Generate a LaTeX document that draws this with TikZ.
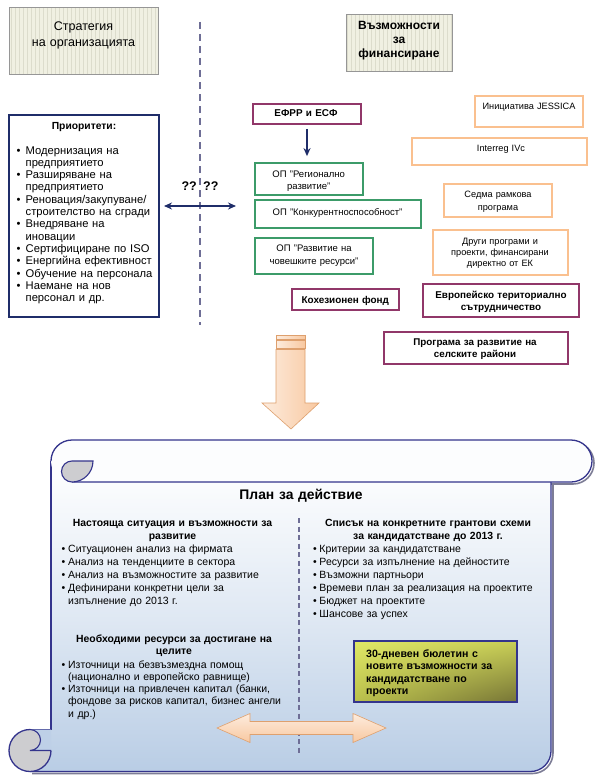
\documentclass[tikz,border=0pt]{standalone}
\usepackage{fontspec}
\setmainfont{Liberation Sans}
\usetikzlibrary{arrows.meta,shadings}
\definecolor{navy}{RGB}{31,45,105}
\definecolor{scrollc}{RGB}{52,52,140}
\definecolor{purp}{RGB}{145,55,105}
\definecolor{grn}{RGB}{60,155,105}
\definecolor{orng}{RGB}{250,192,143}
\definecolor{hdrfill}{RGB}{240,240,226}
\definecolor{hdrgrid}{RGB}{220,220,204}
\definecolor{hdrdraw}{RGB}{150,150,150}
\definecolor{dashc}{RGB}{110,110,150}
\definecolor{bodyblue}{RGB}{185,205,229}
\definecolor{bodymid}{RGB}{190,208,231}
\definecolor{peach}{RGB}{248,200,160}
\definecolor{peachL}{RGB}{253,236,222}
\definecolor{peachD}{RGB}{222,160,110}
\definecolor{curlgray}{RGB}{205,205,208}
\definecolor{shadowc}{RGB}{125,125,150}
\definecolor{bUL}{RGB}{224,232,102}
\definecolor{bUR}{RGB}{200,206,86}
\definecolor{bLL}{RGB}{186,192,76}
\definecolor{bLR}{RGB}{118,116,54}
\newcommand\blt{\makebox[9pt][l]{\textbullet}}
\newcommand\bls{\makebox[6.5pt][l]{\textbullet}}
\tikzset{
  hdrbox/.style={draw=hdrdraw, line width=0.9, fill=hdrfill, inner sep=0,
    path picture={\draw[hdrgrid, line width=0.3, step=4] (path picture bounding box.south west) grid (path picture bounding box.north east);}},
  pbox/.style={draw=purp, line width=1.8, fill=white, inner sep=0},
  gbox/.style={draw=grn, line width=1.8, fill=white, inner sep=0},
  obox/.style={draw=orng, line width=1.8, fill=white, inner sep=0},
  ctxt/.style={inner sep=0, anchor=base, align=center},
  ltxt/.style={inner sep=0, anchor=base west, align=left},
  sm/.style={font=\fontsize{9.5}{12}\selectfont},
  so/.style={font=\fontsize{9.2}{12}\selectfont},
  smb/.style={font=\bfseries\fontsize{9.9}{12}\selectfont},
  vdash/.style={draw=dashc, line width=1.8, dash pattern=on 7pt off 5pt},
  navyarrow/.style={draw=navy, line width=1.8, -{Stealth[length=8pt,width=7pt]}},
}
\begin{document}
\begin{tikzpicture}[x=1pt,y=-1pt]
\useasboundingbox (0,0) rectangle (595,784);
\fill[white] (0,0) rectangle (595,784);

% ---------- headers ----------
\node[hdrbox, minimum width=149, minimum height=67] (strat) at (83.5,40.5) {};
\node[ctxt, text width=140, font=\fontsize{12.5}{16}\selectfont] (strattxt) at (83.5,30.5) {Стратегия\\на организацията};
\node[hdrbox, minimum width=106, minimum height=57] (vuzm) at (399,42.5) {};
\node[ctxt, text width=100, font=\bfseries\fontsize{12}{14}\selectfont] (vuzmtxt) at (399,29.5) {Възможности\\за\\финансиране};

% ---------- vertical dashed divider ----------
\coordinate (vtop) at (200,22);
\coordinate (vbot) at (200,325);
\draw[vdash] (vtop) -- (vbot);

% ---------- priorities ----------
\node[draw=navy, line width=2, fill=white, minimum width=150, minimum height=202, inner sep=0] (prio) at (84,216) {};
\node[ctxt, text width=140, font=\bfseries\fontsize{10.3}{12}\selectfont] (priot) at (84,129) {Приоритети:};
\node[ltxt, text width=145, font=\fontsize{11.2}{12.33}\selectfont] (priol) at (16.5,154)
 {\blt Модернизация на\\\hspace*{9pt}предприятието\\
  \blt Разширяване на\\\hspace*{9pt}предприятието\\
  \blt Реновация/закупуване/\\\hspace*{9pt}строителство на сгради\\
  \blt Внедряване на\\\hspace*{9pt}иновации\\
  \blt Сертифициране по ISO\\
  \blt Енергийна ефективност\\
  \blt Обучение на персонала\\
  \blt Наемане на нов\\\hspace*{9pt}персонал и др.};

\node[ctxt, text width=50, font=\bfseries\fontsize{12.5}{14}\selectfont] (qq) at (200,190) {?? ??};
\coordinate (dl) at (164,206);
\coordinate (dr) at (236,206);
\draw[draw=navy, line width=1.8, {Stealth[length=8pt,width=7pt]}-{Stealth[length=8pt,width=7pt]}] (dl) -- (dr);

% ---------- funding boxes ----------
\node[pbox, minimum width=108, minimum height=20] (efrr) at (307,114) {};
\node[ctxt, smb, text width=100] (efrrt) at (306,116) {ЕФРР и ЕСФ};

\node[gbox, minimum width=108, minimum height=32] (opreg) at (309,179) {};
\node[ctxt, sm, text width=104] (opregt) at (308.7,177) {ОП "Регионално\\развитие"};

\node[gbox, minimum width=166, minimum height=28] (opkon) at (338,214) {};
\node[ctxt, sm, text width=160] (opkont) at (337.5,215.3) {ОП "Конкурентноспособност"};

\node[gbox, minimum width=118, minimum height=36] (opchr) at (314,256) {};
\node[ctxt, text width=114, font=\fontsize{9.5}{12.5}\selectfont] (opchrt) at (314,251.5) {ОП "Развитие на\\човешките ресурси"};

\node[pbox, minimum width=107, minimum height=21] (koh) at (345.5,299.5) {};
\node[ctxt, smb, text width=104] (koht) at (345.3,303.3) {Кохезионен фонд};

\node[pbox, minimum width=156, minimum height=33] (evr) at (501,300.5) {};
\node[ctxt, text width=154, font=\bfseries\fontsize{9.9}{11.7}\selectfont] (evrt) at (501,298.7) {Европейско териториално\\сътрудничество};

\node[pbox, minimum width=184, minimum height=32] (prog) at (476,348) {};
\node[ctxt, text width=178, font=\bfseries\fontsize{9.8}{11.7}\selectfont] (progt) at (475,345.5) {Програма за развитие на\\селските райони};

\node[obox, minimum width=108, minimum height=31] (jess) at (529,111.5) {};
\node[ctxt, so, text width=106] (jesst) at (529,109.2) {Инициатива JESSICA};

\node[obox, minimum width=175, minimum height=27] (intr) at (499.5,151.5) {};
\node[ctxt, so, text width=170] (intrt) at (501,151.6) {Interreg IVc};

\node[obox, minimum width=108, minimum height=33] (sedma) at (498,200.5) {};
\node[ctxt, text width=106, font=\fontsize{9.2}{12.3}\selectfont] (sedmat) at (498,197.8) {Седма рамкова\\програма};

\node[obox, minimum width=135, minimum height=45] (drugi) at (500.5,252.5) {};
\node[ctxt, text width=133, font=\fontsize{9.2}{11.2}\selectfont] (drugit) at (500,244.5) {Други програми и\\проекти, финансирани\\директно от ЕК};

\draw[navyarrow, shorten <=4pt, shorten >=6pt] (efrr.south -| 307,0) -- (opreg.north -| 307,0);

% ---------- big down arrow ----------
\shadedraw[left color=peachL, right color=peach, draw=peachD, line width=0.6] (276,335) rectangle (305,339);
\shadedraw[left color=peachL, right color=peach, draw=peachD, line width=0.6] (276,340.5) rectangle (305,348);
\shadedraw[left color=peachL, right color=peach, draw=peachD, line width=0.6]
  (276,349.5) -- (305,349.5) -- (305,403) -- (319,403) -- (291,429) -- (262,403) -- (276,403) -- cycle;

% ---------- scroll ----------
\draw[shadowc, line width=1.6] (553,484) -- (553,753) arc[start angle=0,end angle=90,radius=20.5] -- (32,773.5);
\draw[shadowc, line width=1.6] (573,442) arc[start angle=270,end angle=450,radius=21] -- (540,484);
\shade[top color=white, bottom color=bodyblue, middle color=white!55!bodyblue]
  (51,461) -- (551,461) -- (551,751) arc[start angle=0,end angle=90,radius=20.5] -- (30,771.5) -- (30,729.5) -- (51,729.5) -- cycle;
\draw[scrollc, line width=1.3] (551,482) -- (551,751) arc[start angle=0,end angle=90,radius=20.5] -- (30,771.5);
\draw[scrollc, line width=1.3] (51,461) -- (51,729.5) -- (30,729.5);
% bottom curl
\fill[curlgray] (30,750.5) circle[radius=21];
\fill[bodymid] (30,729.5) -- (51,729.5) -- (51,750.5) -- (30,750.5) arc[start angle=90,end angle=-90,radius=10.5] -- cycle;
\draw[scrollc, line width=1.1] (30,729.5) arc[start angle=-90,end angle=90,radius=10.5] -- (51,750.5);
\draw[scrollc, line width=1.3] (30,729.5) arc[start angle=270,end angle=0,radius=21];
% top roll
\fill[white!96!bodyblue] (51,461) arc[start angle=180,end angle=270,radius=21] -- (571,440) arc[start angle=270,end angle=450,radius=21] -- (72,482) arc[start angle=90,end angle=180,radius=21] -- cycle;
\draw[scrollc, line width=1.3] (51,461) arc[start angle=180,end angle=270,radius=21] -- (571,440) arc[start angle=270,end angle=450,radius=21] -- (72,482);
\filldraw[fill=curlgray, draw=scrollc, line width=1.1] (72,461) -- (93,461) arc[start angle=0,end angle=90,radius=21] arc[start angle=90,end angle=270,radius=10.5] -- cycle;

\coordinate (itop) at (299,518);
\coordinate (ibot) at (299,753);
\draw[draw=dashc, line width=1.5, dash pattern=on 5pt off 3.5pt] (itop) -- (ibot);

\node[ctxt, text width=200, font=\bfseries\fontsize{13.9}{15}\selectfont] (plan) at (301,499) {План за действие};

\node[ctxt, text width=236, font=\bfseries\fontsize{10.4}{13.5}\selectfont] (lhead) at (172.5,526) {Настояща ситуация и възможности за\\развитие};
\node[ltxt, text width=235, font=\fontsize{10.5}{13}\selectfont] (llist) at (61.5,552)
 {\bls Ситуационен анализ на фирмата\\
  \bls Анализ на тенденциите в сектора\\
  \bls Анализ на възможностите за развитие\\
  \bls Дефинирани конкретни цели за\\\hspace*{6.5pt}изпълнение до 2013 г.};

\node[ctxt, text width=236, font=\bfseries\fontsize{10.4}{12}\selectfont] (lhead2) at (174,642) {Необходими ресурси за достигане на\\целите};
\node[ltxt, text width=235, font=\fontsize{10.5}{12.3}\selectfont] (llist2) at (61.5,668)
 {\bls Източници на безвъзмездна помощ\\\hspace*{6.5pt}(национално и европейско равнище)\\
  \bls Източници на привлечен капитал (банки,\\\hspace*{6.5pt}фондове за рисков капитал, бизнес ангели\\\hspace*{6.5pt}и др.)};

\node[ctxt, text width=236, font=\bfseries\fontsize{10.4}{13.5}\selectfont] (rhead) at (428,526) {Списък на конкретните грантови схеми\\за кандидатстване до 2013 г.};
\node[ltxt, text width=236, font=\fontsize{10.5}{13.1}\selectfont] (rlist) at (312.8,552)
 {\bls Критерии за кандидатстване\\
  \bls Ресурси за изпълнение на дейностите\\
  \bls Възможни партньори\\
  \bls Времеви план за реализация на проектите\\
  \bls Бюджет на проектите\\
  \bls Шансове за успех};

\node[draw=scrollc, line width=1.5, minimum width=163, minimum height=61, inner sep=0,
  upper left=bUL, upper right=bUR, lower left=bLL, lower right=bLR] (bull) at (435.5,671.5) {};
\node[ltxt, text width=150, font=\bfseries\fontsize{10.6}{12.6}\selectfont] (bullt) at (366,657) {30-дневен бюлетин с\\новите възможности за\\кандидатстване по\\проекти};

\shadedraw[top color=peachL, bottom color=peach, draw=peachD, line width=0.6]
  (217,728) -- (250,713.5) -- (250,721.5) -- (353,721.5) -- (353,713.5) -- (386,728)
  -- (353,742.5) -- (353,734.5) -- (250,734.5) -- (250,742.5) -- cycle;
\end{tikzpicture}
\end{document}
